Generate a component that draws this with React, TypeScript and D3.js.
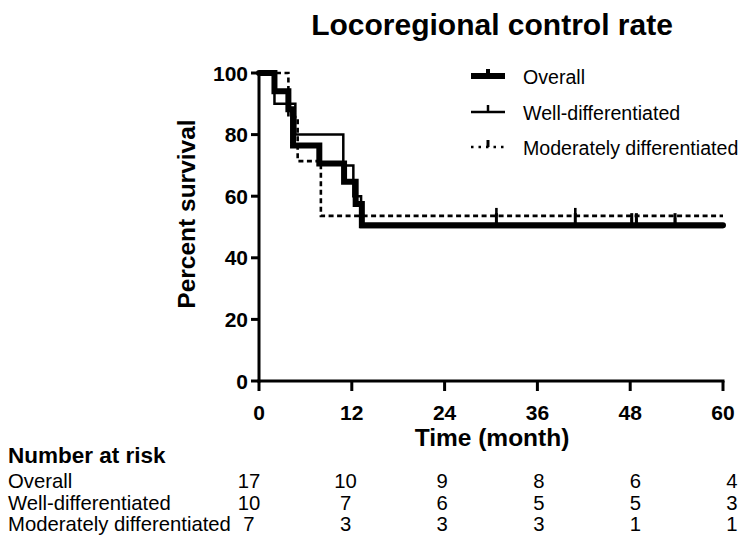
import React from "react";
import * as d3 from "d3";

// axis ticks
const timeTicks = [0, 12, 24, 36, 48, 60];
const pctTicks = [0, 20, 40, 60, 80, 100];

// Kaplan-Meier steps (month, percent)
const overallTimes = [0, 2, 3.8, 4.4, 7.8, 11, 12.5, 13.3];
const overallPct = [100, 94.1, 88.2, 76.5, 70.6, 64.7, 57.5, 50.6];
const overallCensor = [30.7, 40.9, 48.2, 48.8, 53.8];

const wellTimes = [0, 2, 4.7, 10.9, 12.2, 13.2];
const wellPct = [100, 90, 80, 70, 60, 50];
const wellCensor = [48.2, 48.8, 53.8];

const modTimes = [0, 3.8, 5, 8];
const modPct = [100, 85.7, 71.4, 53.6];
const modCensor = [30.7, 40.9];

// number at risk table
const riskGroups = ["Overall", "Well-differentiated", "Moderately differentiated"];
const riskOverall = [17, 10, 9, 8, 6, 4];
const riskWell = [10, 7, 6, 5, 5, 3];
const riskMod = [7, 3, 3, 3, 1, 1];

const W = 743;
const H = 535;
const font = "'Liberation Sans', Arial, sans-serif";

const x = d3.scaleLinear().domain([0, 60]).range([259, 723]);
const y = d3.scaleLinear().domain([0, 100]).range([381, 73]);
const riskX = d3.scalePoint<number>().domain(timeTicks).range([249, 732]);

const stepLine = d3
  .line<[number, number]>()
  .x((d) => x(d[0]))
  .y((d) => y(d[1]))
  .curve(d3.curveStepAfter);

function pathFor(times: number[], pct: number[]) {
  const pts: [number, number][] = times.map((t, i) => [t, pct[i]]);
  pts.push([60, pct[pct.length - 1]]);
  return stepLine(pts) || "";
}

function valueAt(times: number[], pct: number[], t: number) {
  let v = pct[0];
  times.forEach((tt, i) => {
    if (tt <= t) v = pct[i];
  });
  return v;
}

const series = [
  { times: wellTimes, pct: wellPct, censor: wellCensor, width: 2.5, dash: "", tick: 9 },
  { times: overallTimes, pct: overallPct, censor: overallCensor, width: 6, dash: "", tick: 12 },
  { times: modTimes, pct: modPct, censor: modCensor, width: 2.6, dash: "5,3.5", tick: 8 },
];

const legendItems = [
  { label: "Overall", width: 6, dash: "", y: 76, tw: 4 },
  { label: "Well-differentiated", width: 2.5, dash: "", y: 112, tw: 2.5 },
  { label: "Moderately differentiated", width: 2.6, dash: "2.5,5", y: 147, tw: 3 },
];

export default function App() {
  const riskRows = [riskOverall, riskWell, riskMod];
  return (
    <svg width={W} height={H} style={{ position: "absolute", left: 0, top: 0, background: "#fff" }} fontFamily={font}>
      <text x={492} y={35} textAnchor="middle" fontSize={30} fontWeight="bold">
        Locoregional control rate
      </text>

      {/* y axis */}
      <line x1={x(0)} x2={x(0)} y1={y(100) - 1} y2={y(0) + 1.5} stroke="#000" strokeWidth={3} />
      {pctTicks.map((p) => (
        <g key={"y" + p}>
          <line x1={x(0) - 8} x2={x(0)} y1={y(p)} y2={y(p)} stroke="#000" strokeWidth={3} />
          <text x={248} y={y(p) + 7.5} textAnchor="end" fontSize={21} fontWeight="bold">
            {p}
          </text>
        </g>
      ))}
      <text transform="translate(195,214) rotate(-90)" textAnchor="middle" fontSize={24.5} fontWeight="bold">
        Percent survival
      </text>

      {/* x axis */}
      <line x1={x(0) - 1.5} x2={x(60) + 1.5} y1={y(0)} y2={y(0)} stroke="#000" strokeWidth={3} />
      {timeTicks.map((t) => (
        <g key={"x" + t}>
          <line x1={x(t)} x2={x(t)} y1={y(0)} y2={y(0) + 10} stroke="#000" strokeWidth={3} />
          <text x={x(t)} y={420} textAnchor="middle" fontSize={21} fontWeight="bold">
            {t}
          </text>
        </g>
      ))}
      <text x={492} y={446} textAnchor="middle" fontSize={24.5} fontWeight="bold">
        Time (month)
      </text>

      {/* curves */}
      {series.map((s, i) => (
        <g key={"s" + i}>
          <path
            d={pathFor(s.times, s.pct)}
            fill="none"
            stroke="#000"
            strokeWidth={s.width}
            strokeDasharray={s.dash || undefined}
            strokeLinecap={s.dash ? "butt" : "round"}
            strokeLinejoin="miter"
          />
          {s.censor.map((c) => {
            const v = valueAt(s.times, s.pct, c);
            return (
              <line
                key={c}
                x1={x(c)}
                x2={x(c)}
                y1={y(v)}
                y2={y(v) - s.tick}
                stroke="#000"
                strokeWidth={Math.min(s.width, 3)}
              />
            );
          })}
        </g>
      ))}

      {/* legend */}
      {legendItems.map((l) => (
        <g key={l.label}>
          <line
            x1={471}
            x2={505}
            y1={l.y}
            y2={l.y}
            stroke="#000"
            strokeWidth={l.width}
            strokeDasharray={l.dash || undefined}
          />
          <line x1={488} x2={488} y1={l.y} y2={l.y - 7} stroke="#000" strokeWidth={l.tw} />
          <text x={523} y={l.y + 8} fontSize={19.6}>
            {l.label}
          </text>
        </g>
      ))}

      {/* number at risk */}
      <text x={8} y={463} fontSize={22.5} fontWeight="bold">
        Number at risk
      </text>
      {riskGroups.map((g, i) => (
        <g key={g}>
          <text x={8} y={488 + i * 21.5} fontSize={20.3}>
            {g}
          </text>
          {riskRows[i].map((n, j) => (
            <text key={j} x={riskX(timeTicks[j])} y={488 + i * 21.5} textAnchor="middle" fontSize={20.3}>
              {n}
            </text>
          ))}
        </g>
      ))}
    </svg>
  );
}
